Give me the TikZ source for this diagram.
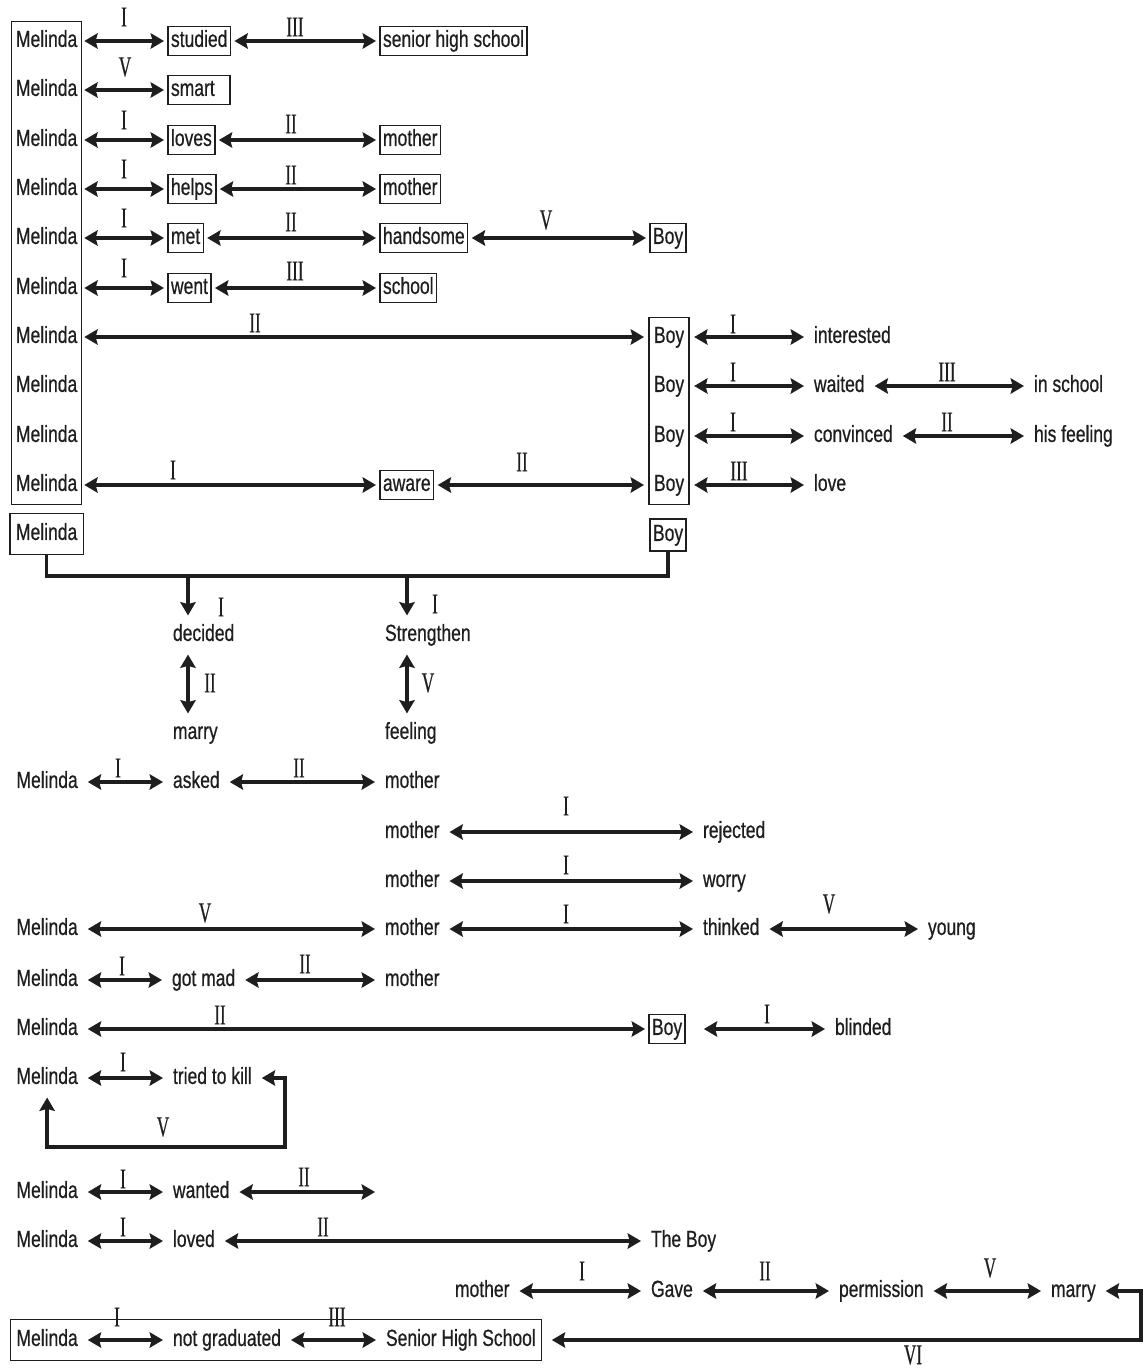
\documentclass[tikz,border=0pt]{standalone}
\usepackage{fontspec}
\setmainfont{Liberation Sans}[FakeStretch=0.75,FakeBold=0.6]
\newfontfamily\numfont{Liberation Serif}[FakeStretch=0.6,FakeBold=0.5]
\usetikzlibrary{arrows.meta,fit}
\definecolor{ink}{HTML}{1E1E1E}
\tikzset{
 tri/.tip={Stealth[length=10pt,width=11.5pt,inset=1.5pt]},
 base/.style={font=\fontsize{17.5pt}{19pt}\selectfont, text height=12.6pt, text depth=3.7pt, inner xsep=2.25pt, inner ysep=2.6pt, anchor=west, outer ysep=3.9pt, text=ink},
 plain/.style={base, outer xsep=5.25pt},
 boxed/.style={base, draw=ink, line width=1pt, outer xsep=3pt},
 inbox/.style={base, outer xsep=3pt},
 num/.style={font=\fontsize{21.5pt}{22pt}\numfont, inner sep=0pt, text=ink},
 dbl/.style={draw=ink, line width=2.5pt, arrows={tri-tri}},
 one/.style={draw=ink, line width=2.5pt, arrows={-tri}},
 frame/.style={draw=ink, line width=1pt, inner ysep=0pt},
 conn/.style={draw=ink, line width=2.5pt},
}
\begin{document}
\begin{tikzpicture}[x=0.75pt,y=-0.75pt]
\fill[white] (0,0) rectangle (1147,1369);
\useasboundingbox (0,0) rectangle (1147,1369);

% ---------- top block ----------
\node[inbox] (m1) at (9,41) {Melinda};
\node[inbox] (m2) at (9,90) {Melinda};
\node[inbox] (m3) at (9,140) {Melinda};
\node[inbox] (m4) at (9,189) {Melinda};
\node[inbox] (m5) at (9,238) {Melinda};
\node[inbox] (m6) at (9,288) {Melinda};
\node[inbox] (m7) at (9,337) {Melinda};
\node[inbox] (m8) at (9,386) {Melinda};
\node[inbox] (m9) at (9,436) {Melinda};
\node[inbox] (m10) at (9,485) {Melinda};
\node[frame, inner xsep=-2pt, fit=(m1)(m10)] (mbig) {};

\node[boxed] (studied) at (164,41) {studied};
\node[boxed] (shs) at (376,41) {senior high school};
\node[boxed, text width=42pt, align=left] (smart) at (164,90) {smart};
\node[boxed] (loves) at (164,140) {loves};
\node[boxed] (mo3) at (376,140) {mother};
\node[boxed] (helps) at (164,189) {helps};
\node[boxed] (mo4) at (376,189) {mother};
\node[boxed] (met) at (164,238) {met};
\node[boxed] (hand) at (376,238) {handsome};
\node[boxed] (boy5) at (646,238) {Boy};
\node[boxed] (went) at (164,288) {went};
\node[boxed] (school) at (376,288) {school};

\node[plain] (b7) at (644,337) {Boy};
\node[plain] (b8) at (644,386) {Boy};
\node[plain] (b9) at (644,436) {Boy};
\node[plain] (b10) at (644,485) {Boy};
\node[frame, inner xsep=-3.75pt, fit=(b7)(b10)] (bbig) {};

\node[plain] (inter) at (804,337) {interested};
\node[plain] (waited) at (804,386) {waited};
\node[plain] (insch) at (1024,386) {in school};
\node[plain] (conv) at (804,436) {convinced};
\node[plain] (hisf) at (1024,436) {his feeling};
\node[boxed] (aware) at (376,485) {aware};
\node[plain] (love) at (804,485) {love};

\node[boxed, minimum height=30.75pt, inner xsep=4.5pt, outer sep=0pt] (mel11) at (10,534) {Melinda};
\node[boxed, minimum height=24pt, outer sep=0pt] (boy11) at (650,535) {Boy};

\draw[dbl] (m1.east) -- (studied.west);
\draw[dbl] (studied.east) -- (shs.west);
\draw[dbl] (m2.east) -- (smart.west);
\draw[dbl] (m3.east) -- (loves.west);
\draw[dbl] (loves.east) -- (mo3.west);
\draw[dbl] (m4.east) -- (helps.west);
\draw[dbl] (helps.east) -- (mo4.west);
\draw[dbl] (m5.east) -- (met.west);
\draw[dbl] (met.east) -- (hand.west);
\draw[dbl] (hand.east) -- (boy5.west);
\draw[dbl] (m6.east) -- (went.west);
\draw[dbl] (went.east) -- (school.west);
\draw[dbl] (m7.east) -- (b7.west);
\draw[dbl] (b7.east) -- (inter.west);
\draw[dbl] (b8.east) -- (waited.west);
\draw[dbl] (waited.east) -- (insch.west);
\draw[dbl] (b9.east) -- (conv.west);
\draw[dbl] (conv.east) -- (hisf.west);
\draw[dbl] (m10.east) -- (aware.west);
\draw[dbl] (aware.east) -- (b10.west);
\draw[dbl] (b10.east) -- (love.west);

\node[num] (n1) at (124,17) {I};
\node[num] (n2) at (295,27) {III};
\node[num] (n3) at (125,67) {V};
\node[num] (n4) at (124,120) {I};
\node[num] (n5) at (291,124) {II};
\node[num] (n6) at (124,169) {I};
\node[num] (n7) at (291,175) {II};
\node[num] (n8) at (124,218) {I};
\node[num] (n9) at (291,222) {II};
\node[num] (n10) at (546,220) {V};
\node[num] (n11) at (124,268) {I};
\node[num] (n12) at (295,271) {III};
\node[num] (n13) at (255,323) {II};
\node[num] (n14) at (733,324) {I};
\node[num] (n15) at (733,372) {I};
\node[num] (n16) at (947,372) {III};
\node[num] (n17) at (733,422) {I};
\node[num] (n18) at (947,422) {II};
\node[num] (n19) at (173,470) {I};
\node[num] (n20) at (522,462) {II};
\node[num] (n21) at (739,471) {III};

% ---------- joining line ----------
\coordinate (hl) at (0,576);
\draw[conn] (mel11.south) -- (mel11.south |- hl) -| (boy11.south);
\coordinate (j1) at (188,576);
\coordinate (j2) at (407,576);

\node[plain] (decided) at (163,635) {decided};
\node[plain] (streng) at (375,635) {Strengthen};
\node[plain] (marry) at (163,733) {marry};
\node[plain] (feeling) at (375,733) {feeling};
\draw[one] (j1) -- (j1 |- decided.north);
\draw[one] (j2) -- (j2 |- streng.north);
\draw[dbl] (j1 |- decided.south) -- (j1 |- marry.north);
\draw[dbl] (j2 |- streng.south) -- (j2 |- feeling.north);
\node[num] (n22) at (221,607) {I};
\node[num] (n23) at (435,604) {I};
\node[num] (n24) at (210,683) {II};
\node[num] (n25) at (428,683) {V};

% ---------- middle rows ----------
\node[plain] (mA) at (6.5,782) {Melinda};
\node[plain] (asked) at (163,782) {asked};
\node[plain] (moA) at (375,782) {mother};
\draw[dbl] (mA.east) -- (asked.west);
\draw[dbl] (asked.east) -- (moA.west);
\node[num] (n26) at (118,768) {I};
\node[num] (n27) at (299,768) {II};

\node[plain] (moR) at (375,832) {mother};
\node[plain] (rej) at (693,832) {rejected};
\draw[dbl] (moR.east) -- (rej.west);
\node[num] (n28) at (566,806) {I};

\node[plain] (moW) at (375,881) {mother};
\node[plain] (worry) at (693,881) {worry};
\draw[dbl] (moW.east) -- (worry.west);
\node[num] (n29) at (566,865) {I};

\node[plain] (mT) at (6.5,929) {Melinda};
\node[plain] (moT) at (375,929) {mother};
\node[plain] (think) at (693,929) {thinked};
\node[plain] (young) at (918,929) {young};
\draw[dbl] (mT.east) -- (moT.west);
\draw[dbl] (moT.east) -- (think.west);
\draw[dbl] (think.east) -- (young.west);
\node[num] (n30) at (205,913) {V};
\node[num] (n31) at (566,914) {I};
\node[num] (n32) at (829,904) {V};

\node[plain] (mG) at (6.5,980) {Melinda};
\node[plain] (gotmad) at (162,980) {got mad};
\node[plain] (moG) at (375,980) {mother};
\draw[dbl] (mG.east) -- (gotmad.west);
\draw[dbl] (gotmad.east) -- (moG.west);
\node[num] (n33) at (122,966) {I};
\node[num] (n34) at (305,964) {II};

\node[plain] (mB) at (6.5,1029) {Melinda};
\node[boxed] (boyB) at (645,1029) {Boy};
\node[plain] (blind) at (825,1029) {blinded};
\draw[dbl] (mB.east) -- (boyB.west);
\draw[dbl, shorten <=11pt] (boyB.east) -- (blind.west);
\node[num] (n35) at (220,1015) {II};
\node[num] (n36) at (767,1014) {I};

\node[plain] (mK) at (6.5,1078) {Melinda};
\node[plain] (tk) at (163,1078) {tried to kill};
\draw[dbl] (mK.east) -- (tk.west);
\coordinate (k1) at (285,1147);
\draw[dbl] (tk.east) -| (k1) -| (mK.south);
\node[num] (n37) at (123,1062) {I};
\node[num] (n38) at (163,1127) {V};

\node[plain] (mW) at (6.5,1192) {Melinda};
\node[plain] (wanted) at (163,1192) {wanted};
\coordinate (wend) at (375,1192);
\draw[dbl] (mW.east) -- (wanted.west);
\draw[dbl] (wanted.east) -- (wend);
\node[num] (n39) at (123,1179) {I};
\node[num] (n40) at (304,1177) {II};

\node[plain] (mL) at (6.5,1241) {Melinda};
\node[plain] (loved) at (163,1241) {loved};
\node[plain] (theboy) at (641,1241) {The Boy};
\draw[dbl] (mL.east) -- (loved.west);
\draw[dbl] (loved.east) -- (theboy.west);
\node[num] (n41) at (123,1227) {I};
\node[num] (n42) at (323,1227) {II};

% ---------- bottom ----------
\node[plain] (moGv) at (445,1291) {mother};
\node[plain] (gave) at (641,1291) {Gave};
\node[plain] (perm) at (829,1291) {permission};
\node[plain] (marry2) at (1041,1291) {marry};
\draw[dbl] (moGv.east) -- (gave.west);
\draw[dbl] (gave.east) -- (perm.west);
\draw[dbl] (perm.east) -- (marry2.west);
\node[num] (n43) at (582,1271) {I};
\node[num] (n44) at (765,1271) {II};
\node[num] (n45) at (990,1268) {V};

\node[plain] (mN) at (6.5,1340) {Melinda};
\node[plain] (ng) at (163,1340) {not graduated};
\node[plain] (shsB) at (376,1340) {Senior High School};
\node[frame, inner xsep=-3pt, inner ysep=0.5pt, fit=(mN)(shsB)] (bbox) {};
\draw[dbl] (mN.east) -- (ng.west);
\draw[dbl] (ng.east) -- (shsB.west);
\node[num] (n46) at (117,1317) {I};
\node[num] (n47) at (337,1317) {III};

\coordinate (q1) at (1141,1340);
\draw[dbl, shorten >=7pt] (marry2.east) -| (q1) -- (q1 -| bbox.east);
\node[num] (n48) at (913,1355) {VI};
\end{tikzpicture}
\end{document}
